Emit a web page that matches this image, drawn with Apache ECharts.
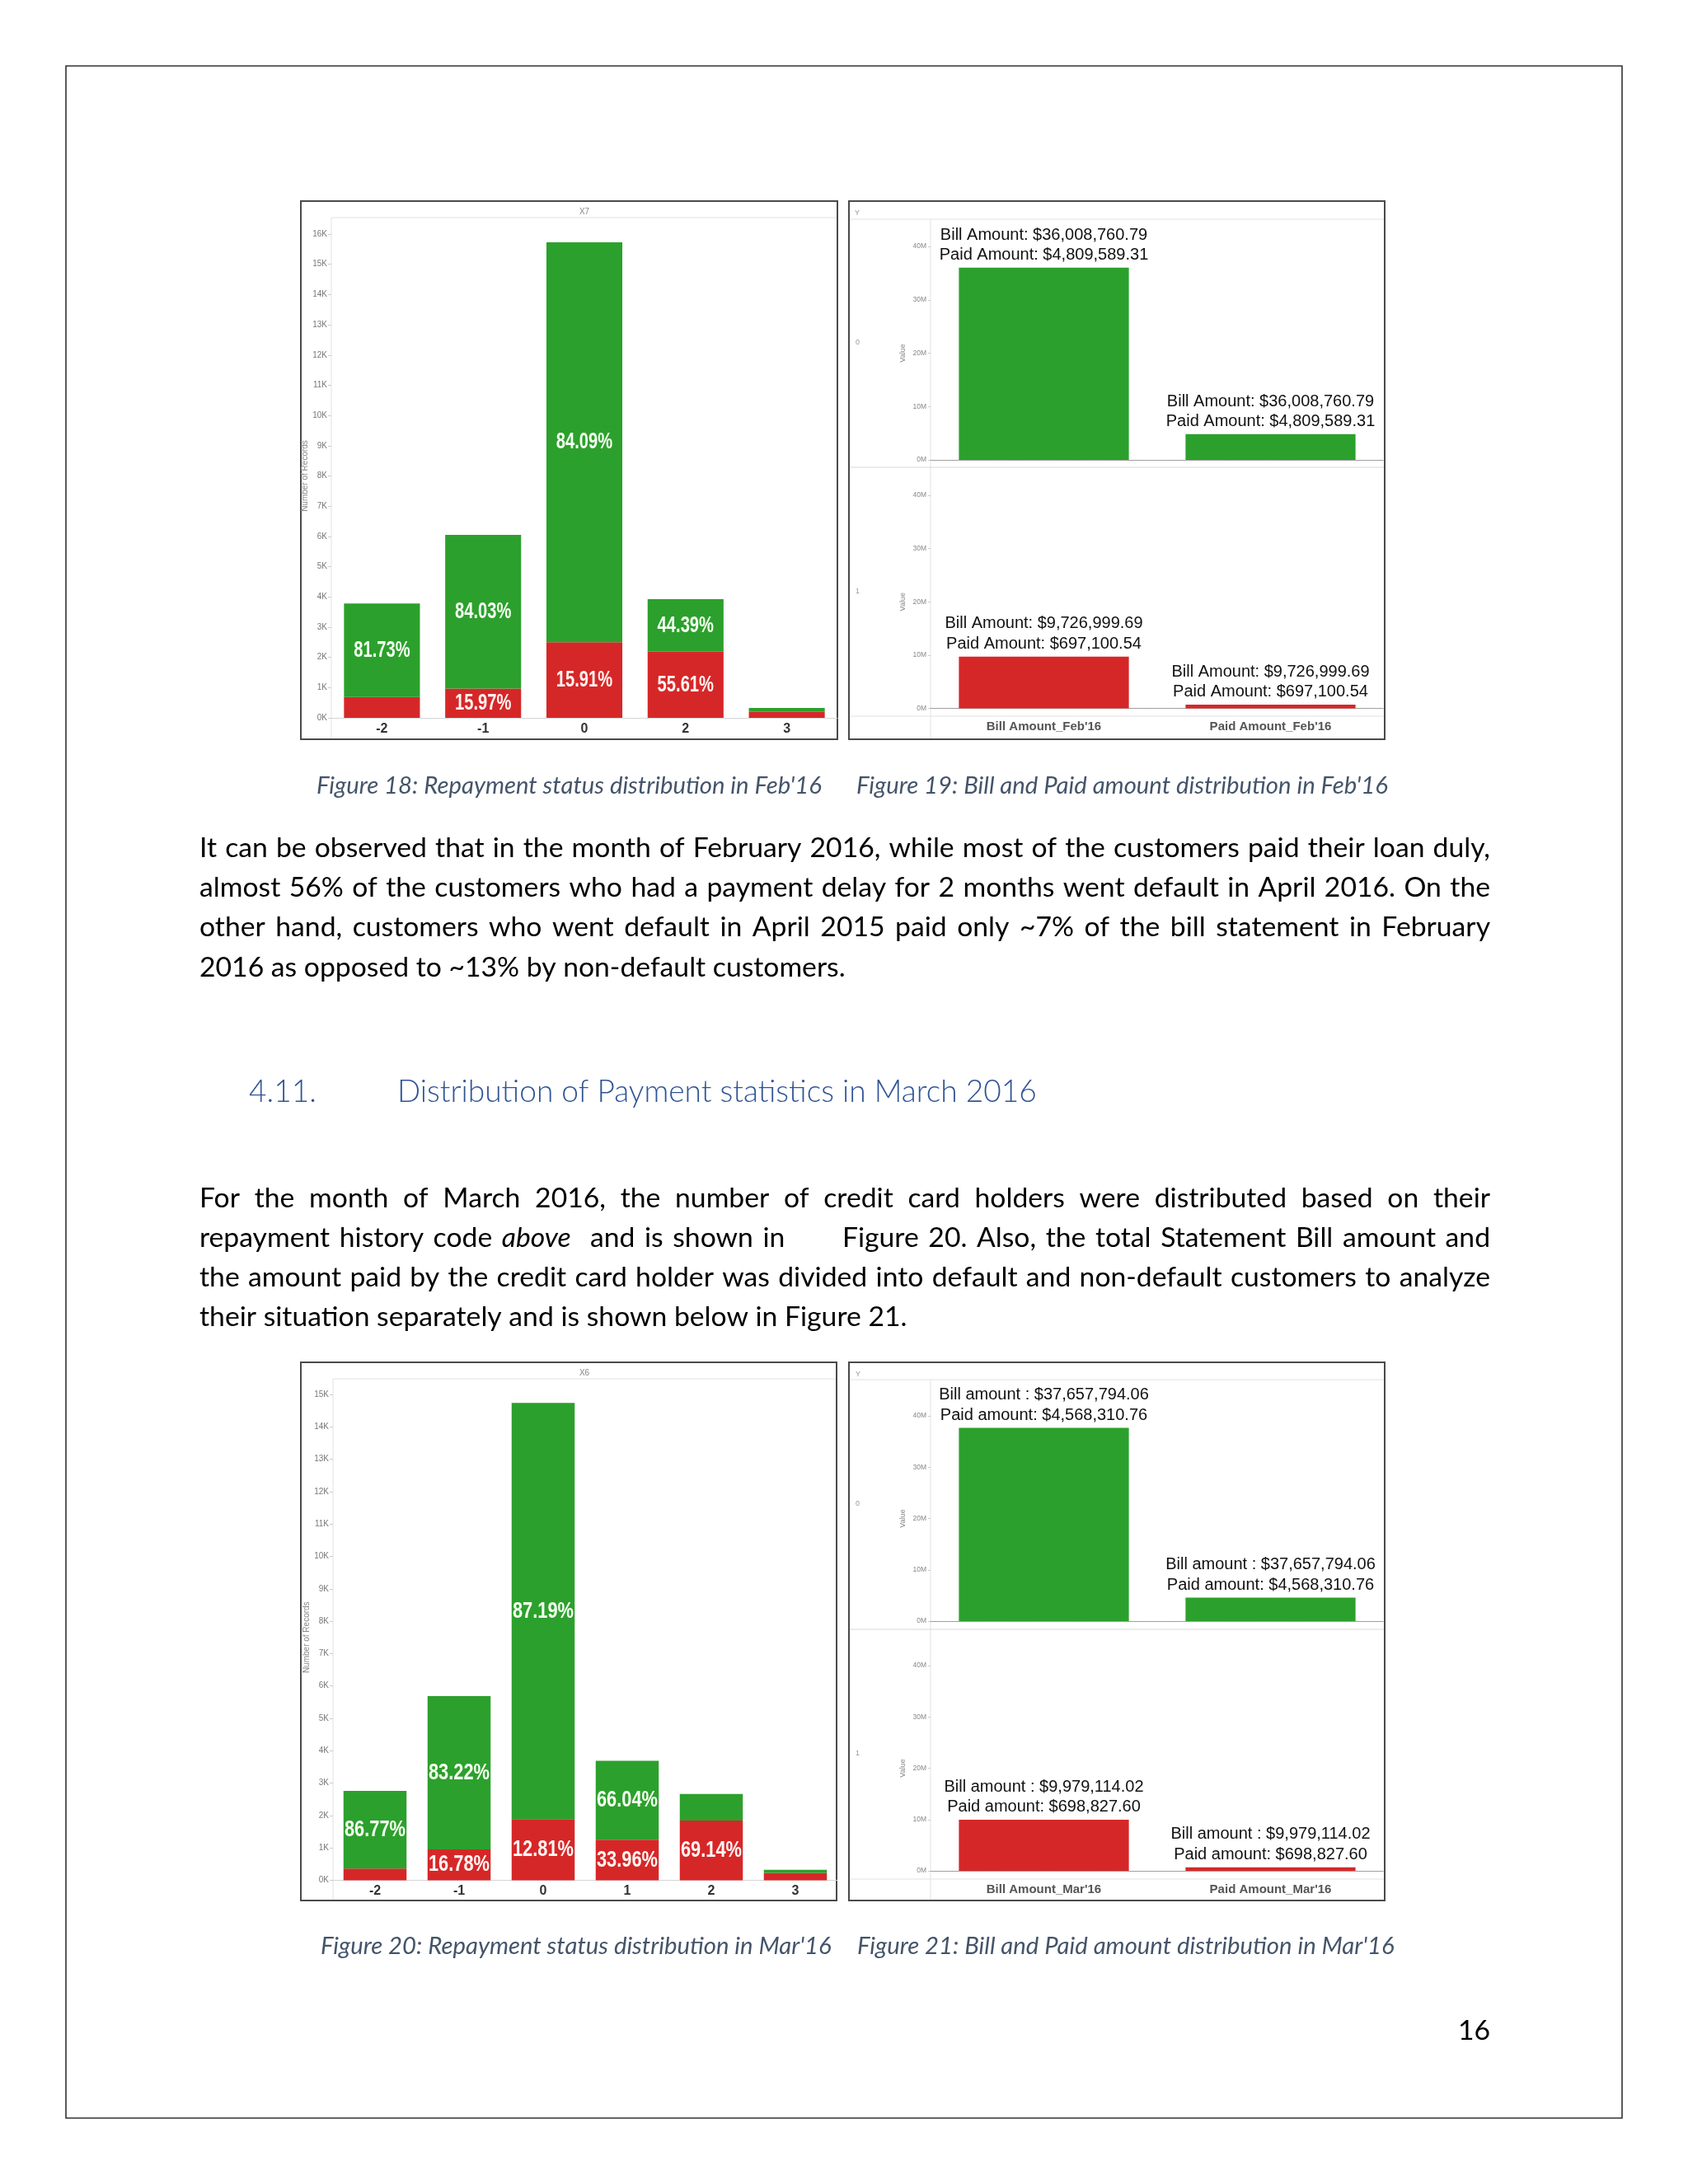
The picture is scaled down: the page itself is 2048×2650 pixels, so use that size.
<!DOCTYPE html>
<html><head><meta charset="utf-8">
<script src="https://cdn.jsdelivr.net/npm/echarts@6/dist/echarts.min.js"></script>
<style>html,body{margin:0;padding:0;background:#fff}#c{width:2048px;height:2650px}</style>
</head><body><div id="c"></div>
<script>
// ---------------- DATA ----------------
const febCategories = ['-2', '-1', '0', '2', '3'];
const febDefault = [691, 966, 2503, 2184, 200];
const febNonDefault = [3091, 5084, 13227, 1743, 126];
const febGreenLabels = ['81.73%', '84.03%', '84.09%', '44.39%', ''];
const febRedLabels = ['', '15.97%', '15.91%', '55.61%', ''];

const marCategories = ['-2', '-1', '0', '1', '2', '3'];
const marDefault = [365, 954, 1888, 1252, 1844, 230];
const marNonDefault = [2394, 4732, 12849, 2436, 823, 92];
const marGreenLabels = ['86.77%', '83.22%', '87.19%', '66.04%', '', ''];
const marRedLabels = ['', '16.78%', '12.81%', '33.96%', '69.14%', ''];

const febAmountCategories = ["Bill Amount_Feb'16", "Paid Amount_Feb'16"];
const febBill = [36008760.79, 9726999.69];   // Y = 0, Y = 1
const febPaid = [4809589.31, 697100.54];
const marAmountCategories = ["Bill Amount_Mar'16", "Paid Amount_Mar'16"];
const marBill = [37657794.06, 9979114.02];
const marPaid = [4568310.76, 698827.60];

const countTicksFeb = [0,1000,2000,3000,4000,5000,6000,7000,8000,9000,10000,11000,12000,13000,14000,15000,16000];
const countTicksMar = [0,1000,2000,3000,4000,5000,6000,7000,8000,9000,10000,11000,12000,13000,14000,15000];
const amountTicks = [0, 10000000, 20000000, 30000000, 40000000];

const para1 = [
  "It can be observed that in the month of February 2016, while most of the customers paid their loan duly,",
  "almost 56% of the customers who had a payment delay for 2 months went default in April 2016. On the",
  "other hand, customers who went default in April 2015 paid only ~7% of the bill statement in February",
  "2016 as opposed to ~13% by non-default customers."
];
const para2 = [
  "For the month of March 2016, the number of credit card holders were distributed based on their",
  "repayment history code *above | and is shown in | | | | | Figure 20. Also, the total Statement Bill amount and",
  "the amount paid by the credit card holder was divided into default and non-default customers to analyze",
  "their situation separately and is shown below in Figure 21."
];
const headingNum = "4.11.";
const headingText = "Distribution of Payment statistics in March 2016";
const captions = [
  "Figure 18: Repayment status distribution in Feb'16",
  "Figure 19: Bill and Paid amount distribution in Feb'16",
  "Figure 20: Repayment status distribution in Mar'16",
  "Figure 21: Bill and Paid amount distribution in Mar'16"
];
const pageNumber = "16";

// ---------------- HELPERS ----------------
const GREEN = '#2ca02c', RED = '#d62728';
const BODY_FONT = 'Lato, "Open Sans", sans-serif';
const ARIAL = '"Liberation Sans", Arial, sans-serif';
const cv = document.createElement('canvas').getContext('2d');
function measure(text, size, family, weight, style) {
  cv.font = (style || 'normal') + ' ' + (weight || 'normal') + ' ' + size + 'px ' + family;
  return cv.measureText(text).width;
}
function fitSize(text, width, family, weight, style) {
  return 100 * width / measure(text, 100, family, weight, style);
}
function money(v) {
  return v.toLocaleString('en-US', {minimumFractionDigits: 2, maximumFractionDigits: 2});
}

const bodySize = fitSize(para1[3], 784, BODY_FONT);
const capSize = fitSize(captions[0], 613, BODY_FONT, 'normal', 'italic');
const headSize = fitSize(headingText, 776, BODY_FONT, 300);

const graphics = [];
function addText(x, y, text, o) {
  graphics.push({type: 'text', x: x, y: y, silent: true, style: Object.assign({
    text: text, fill: '#000', fontFamily: BODY_FONT, fontSize: bodySize,
    textAlign: 'left', textVerticalAlign: 'middle'}, o || {})});
}
function addLine(x1, y1, x2, y2, stroke, w, dash) {
  graphics.push({type: 'line', silent: true, shape: {x1: x1, y1: y1, x2: x2, y2: y2},
    style: {stroke: stroke, lineWidth: w || 1, lineDash: dash || null}});
}
function addRect(x, y, w, h, stroke, lw) {
  graphics.push({type: 'rect', silent: true, shape: {x: x, y: y, width: w, height: h},
    style: {fill: 'none', stroke: stroke, lineWidth: lw}});
}
function paragraph(lines, x0, x1, y0, gap) {
  lines.forEach(function (line, li) {
    const toks = line.split(' ').map(function (t) { return t === '|' ? '' : t; });
    const items = toks.map(function (t) {
      const it = t.charAt(0) === '*';
      const txt = it ? t.slice(1) : t;
      return {t: txt, it: it, w: txt ? measure(txt, bodySize, BODY_FONT, 'normal', it ? 'italic' : 'normal') : 0};
    });
    const last = li === lines.length - 1;
    const sum = items.reduce(function (a, b) { return a + b.w; }, 0);
    const sp = last ? measure(' ', bodySize, BODY_FONT) : (x1 - x0 - sum) / (items.length - 1);
    let x = x0;
    const y = y0 + li * gap;
    items.forEach(function (it) {
      if (it.t) addText(x, y, it.t, {fontStyle: it.it ? 'italic' : 'normal'});
      x += it.w + sp;
    });
  });
}

// ---------------- PAGE ----------------
addRect(80, 80, 1888, 2490, '#333', 1.6);
paragraph(para1, 242, 1808, 1029, 48.3);
paragraph(para2, 242, 1808, 1454, 48);
addText(302, 1325, headingNum, {fill: '#2F5496', fontSize: headSize, fontWeight: 300});
addText(482, 1325, headingText, {fill: '#2F5496', fontSize: headSize, fontWeight: 300});
const capStyle = {fill: '#44546A', fontSize: capSize, fontStyle: 'italic'};
addText(384, 954, captions[0], capStyle);
addText(1039, 954, captions[1], capStyle);
addText(389, 2362, captions[2], capStyle);
addText(1040, 2362, captions[3], capStyle);
addText(1808, 2464, pageNumber, {textAlign: 'right'});

// panel frames
addRect(365, 244, 651, 653, '#4a4a4a', 2);
addRect(1030, 244, 650, 653, '#4a4a4a', 2);
addRect(365, 1653, 650, 653, '#4a4a4a', 2);
addRect(1030, 1653, 650, 653, '#4a4a4a', 2);
const FL = '#e2e2e2';
addLine(402, 264, 1015, 264, FL); addLine(402, 264, 402, 896, FL);
addLine(1031, 266, 1679, 266, FL); addLine(1129, 266, 1129, 896, FL);
addLine(1031, 567, 1679, 567, '#d8d8d8'); addLine(1031, 869, 1679, 869, FL);
addLine(404, 1673, 1014, 1673, FL); addLine(404, 1673, 404, 2305, FL);
addLine(1031, 1674, 1679, 1674, FL); addLine(1129, 1674, 1129, 2305, FL);
addLine(1031, 1977, 1679, 1977, '#d8d8d8'); addLine(1031, 2280, 1679, 2280, FL);

const small = {fill: '#888', fontFamily: ARIAL, fontSize: 10, textAlign: 'center'};
addText(709, 257, 'X7', small);
addText(709, 1666, 'X6', small);
const smallL = {fill: '#999', fontFamily: ARIAL, fontSize: 9, textAlign: 'left'};
addText(1037, 259, 'Y', smallL); addText(1038, 416, '0', smallL); addText(1038, 718, '1', smallL);
addText(1038, 1668, 'Y', smallL); addText(1038, 1825, '0', smallL); addText(1038, 2128, '1', smallL);

// ---------------- CHART ----------------
const grids = [
  {left: 402, top: 284, width: 614, height: 587},
  {left: 1129, top: 299, width: 550, height: 259},
  {left: 1129, top: 601, width: 550, height: 258.5},
  {left: 404, top: 1692, width: 612, height: 589.5},
  {left: 1129, top: 1718, width: 550, height: 249},
  {left: 1129, top: 2021, width: 550, height: 249}
];

function countYAxis(gi, max, ticks) {
  return {
    type: 'value', gridIndex: gi, min: 0, max: max, interval: 1000,
    name: 'Number of Records', nameLocation: 'middle', nameGap: 26,
    nameTextStyle: {color: '#888', fontSize: 10, fontFamily: ARIAL},
    axisLine: {show: false}, splitLine: {show: false},
    axisTick: {show: true, length: 4, lineStyle: {color: '#ccc'}, customValues: ticks},
    axisLabel: {color: '#777', fontSize: 10, fontFamily: ARIAL, margin: 5, customValues: ticks,
      formatter: function (v) { return (v / 1000) + 'K'; }}
  };
}
function amountYAxis(gi) {
  return {
    type: 'value', gridIndex: gi, min: 0, max: 40000000, interval: 10000000,
    name: 'Value', nameLocation: 'middle', nameGap: 29,
    nameTextStyle: {color: '#888', fontSize: 9, fontFamily: ARIAL},
    axisLine: {show: false}, splitLine: {show: false},
    axisTick: {show: true, length: 3, lineStyle: {color: '#ccc'}, customValues: amountTicks},
    axisLabel: {color: '#888', fontSize: 8.5, fontFamily: ARIAL, margin: 5, customValues: amountTicks,
      formatter: function (v) { return (v / 1e6) + 'M'; }}
  };
}
function catXAxis(gi, cats, margin) {
  return {
    type: 'category', gridIndex: gi, data: cats,
    axisTick: {show: false},
    axisLine: {show: true, lineStyle: {color: '#d5d5d5'}},
    axisLabel: {show: true, color: '#333', fontWeight: 'bold', fontSize: 16, fontFamily: ARIAL, margin: margin}
  };
}
function amountXAxis(gi, cats, showLabel) {
  return {
    type: 'category', gridIndex: gi, data: cats,
    axisTick: {show: false},
    axisLine: {show: true, lineStyle: {color: '#8a8a8a', type: 'dotted', width: 1}},
    axisLabel: {show: showLabel, color: '#555', fontWeight: 'bold', fontSize: 15, fontFamily: ARIAL, margin: 15}
  };
}

function stackSeries(xi, stack, def, nondef) {
  return [
    {type: 'bar', xAxisIndex: xi, yAxisIndex: xi, stack: stack, data: def, barWidth: '75%',
      itemStyle: {color: RED}, silent: true},
    {type: 'bar', xAxisIndex: xi, yAxisIndex: xi, stack: stack, data: nondef, barWidth: '75%',
      itemStyle: {color: GREEN}, silent: true}
  ];
}
// percentage labels, centred in each stacked segment, drawn condensed
function pctLabelSeries(xi, def, nondef, redLabels, greenLabels, fontSize, scaleX) {
  const items = [];
  def.forEach(function (d, i) {
    if (redLabels[i]) items.push({v: [i, d / 2], t: redLabels[i], c: '#fff4f2'});
    if (greenLabels[i]) items.push({v: [i, d + nondef[i] / 2], t: greenLabels[i], c: '#f3fff0'});
  });
  return {
    type: 'custom', xAxisIndex: xi, yAxisIndex: xi, silent: true, z: 10, clip: false,
    data: items.map(function (it) { return it.v; }),
    encode: {x: 0, y: 1},
    renderItem: function (params, api) {
      const p = api.coord([api.value(0), api.value(1)]);
      const it = items[params.dataIndex];
      return {type: 'text', x: p[0], y: p[1], scaleX: scaleX, scaleY: 1,
        style: {text: it.t, fill: it.c, fontFamily: ARIAL, fontWeight: 'bold', fontSize: fontSize,
          align: 'center', verticalAlign: 'middle'}};
    }
  };
}
function amountSeries(xi, bill, paid, row, color, billWord, paidWord) {
  const txt = billWord + '$' + money(bill[row]) + '\n' + paidWord + '$' + money(paid[row]);
  return {
    type: 'bar', xAxisIndex: xi, yAxisIndex: xi, data: [bill[row], paid[row]], barWidth: '75%',
    itemStyle: {color: color}, silent: true,
    label: {show: true, position: 'top', distance: 3, color: '#111', fontFamily: ARIAL, fontSize: 20,
      lineHeight: 24.5, align: 'center', formatter: function () { return txt; }}
  };
}

const option = {
  animation: false,
  backgroundColor: '#fff',
  grid: grids,
  xAxis: [
    catXAxis(0, febCategories, 6),
    amountXAxis(1, febAmountCategories, false),
    amountXAxis(2, febAmountCategories, true),
    catXAxis(3, marCategories, 5),
    amountXAxis(4, marAmountCategories, false),
    amountXAxis(5, marAmountCategories, true)
  ],
  yAxis: [
    countYAxis(0, 16000, countTicksFeb),
    amountYAxis(1), amountYAxis(2),
    countYAxis(3, 15000, countTicksMar),
    amountYAxis(4), amountYAxis(5)
  ],
  series: [].concat(
    stackSeries(0, 'feb', febDefault, febNonDefault),
    [pctLabelSeries(0, febDefault, febNonDefault, febRedLabels, febGreenLabels, 28, 0.72)],
    [amountSeries(1, febBill, febPaid, 0, GREEN, 'Bill Amount: ', 'Paid Amount: '),
     amountSeries(2, febBill, febPaid, 1, RED, 'Bill Amount: ', 'Paid Amount: ')],
    stackSeries(3, 'mar', marDefault, marNonDefault),
    [pctLabelSeries(3, marDefault, marNonDefault, marRedLabels, marGreenLabels, 28, 0.78)],
    [amountSeries(4, marBill, marPaid, 0, GREEN, 'Bill amount : ', 'Paid amount: '),
     amountSeries(5, marBill, marPaid, 1, RED, 'Bill amount : ', 'Paid amount: ')]
  ),
  graphic: graphics
};

const chart = echarts.init(document.getElementById('c'), null, {renderer: 'canvas'});
chart.setOption(option);
</script>
</body></html>
